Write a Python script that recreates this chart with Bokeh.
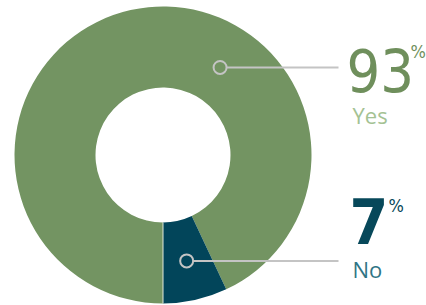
import math
from bokeh.plotting import figure
from bokeh.embed import file_html
from bokeh.resources import INLINE
from bokeh.models import ColumnDataSource
from bokeh.core.properties import value

# ---- data ----
categories = ["Yes", "No"]
percents = [93, 7]
wedge_colors = ["#739462", "#02455a"]
value_colors = ["#6f8f5c", "#07485a"]
name_colors = ["#a4c293", "#2f7585"]

# ---- geometry / style ----
W, H = 426, 305
CX, CY = 162.5, 150.5
R_OUT, R_IN = 148.5, 67.5
LINE_END_X = 338
DOT_ANGLES = [56.9, None]  # None -> middle of the wedge
DOT_R = [104.5, 108.5]
BASE_SHIFT = 0.365  # svg text baseline compensation (fraction of font size)

p = figure(width=W, height=H, output_backend="svg", toolbar_location=None,
           x_range=(0, W), y_range=(0, H), min_border=0,
           outline_line_color=None, background_fill_color="white")
p.axis.visible = False
p.grid.visible = False

# wedges: No starts at 6 o'clock and runs counter-clockwise, Yes fills the rest
total = sum(percents)
a0 = -math.pi / 2
no_end = a0 + 2 * math.pi * percents[1] / total
starts = [no_end, a0]
ends = [a0 + 2 * math.pi, no_end]
src = ColumnDataSource(dict(start=starts, end=ends, color=wedge_colors, cat=categories))
p.annular_wedge(x=CX, y=CY, inner_radius=R_IN, outer_radius=R_OUT,
                start_angle="start", end_angle="end", fill_color="color",
                line_color=None, source=src)
# thin light seam at 6 o'clock
p.segment(x0=[CX], y0=[CY - R_IN], x1=[CX], y1=[CY - R_OUT], line_color="#dfe8da", line_width=1)

# callouts
dots_x, dots_y = [], []
for i in range(2):
    ang = DOT_ANGLES[i]
    if ang is None:
        ang = math.degrees((starts[i] + ends[i]) / 2)
    a = math.radians(ang)
    dots_x.append(CX + DOT_R[i] * math.cos(a))
    dots_y.append(CY + DOT_R[i] * math.sin(a))
dot_rad = 6.5
p.segment(x0=[x + dot_rad for x in dots_x], y0=dots_y, x1=[LINE_END_X] * 2, y1=dots_y,
          line_color="#c4c4c4", line_width=2)
p.scatter(x=dots_x, y=dots_y, size=2 * dot_rad, marker="circle", fill_color=None,
          line_color="#c4c4c4", line_width=2)


def txt(x, base_y, s, size, color, font, style="normal"):
    p.text(x=[x], y=[base_y + BASE_SHIFT * size], text=[s], text_font=value(font),
           text_font_size=f"{size}px", text_font_style=style, text_color=color,
           text_baseline="alphabetic")


big_font = "DejaVu Sans Condensed"
# Yes
txt(346, 213.3, str(percents[0]), 59, value_colors[0], big_font)
txt(410, 247, "%", 18, value_colors[0], big_font)
txt(352, 182.3, categories[0], 22, name_colors[0], "Open Sans")
# No
txt(349, 62, str(percents[1]), 62, value_colors[1], big_font, "bold")
txt(388, 93.3, "%", 18, value_colors[1], big_font)
txt(352, 28.3, categories[1], 22, name_colors[1], "Open Sans")

open("out.html", "w").write(file_html(p, INLINE))
